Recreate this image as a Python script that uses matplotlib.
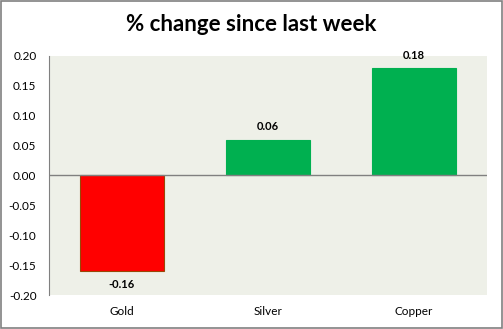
import matplotlib.pyplot as plt
from matplotlib.patches import Rectangle

categories = ["Gold", "Silver", "Copper"]
values = [-0.16, 0.06, 0.18]
colors = ["#FF0000", "#00B050", "#00B050"]
edges = ["#984807", "#00B050", "#00B050"]
yticks = [-0.20, -0.15, -0.10, -0.05, 0.00, 0.05, 0.10, 0.15, 0.20]


def main():
    plt.rcParams["font.family"] = ["Lato", "DejaVu Sans"]
    fig = plt.figure(figsize=(5.03, 3.29), dpi=100)
    ax = fig.add_axes([0.0974, 0.1033, 0.8708, 0.7267])
    ax.set_facecolor("#EEF0E8")

    x = range(len(categories))
    ax.bar(x, values, width=0.57, color=colors, edgecolor=edges, linewidth=0.8, zorder=2)
    for i, v in enumerate(values):
        off = 0.012 if v > 0 else -0.014
        ax.text(i, v + off, f"{v:.2f}", ha="center", va="bottom" if v > 0 else "top",
                fontsize=8, fontweight="bold", color="black")

    ax.axhline(0, color="#808080", linewidth=1, zorder=3)
    ax.set_xlim(-0.5, 2.5)
    ax.set_ylim(-0.20, 0.20)
    ax.set_yticks(yticks)
    ax.set_yticklabels([f"{t:.2f}" for t in yticks], fontsize=8.5)
    ax.set_xticks(list(x))
    ax.set_xticklabels(categories, fontsize=8.5)
    ax.tick_params(axis="both", length=0)
    ax.tick_params(axis="y", pad=9)
    ax.tick_params(axis="x", pad=8)
    for side in ["top", "right", "bottom"]:
        ax.spines[side].set_visible(False)
    ax.spines["left"].set_color("#808080")

    fig.text(0.5, 0.925, "% change since last week", ha="center", va="center",
             fontsize=16, fontweight="bold")
    fig.patches.append(Rectangle((0.001, 0.002), 0.997, 0.995, transform=fig.transFigure,
                                 fill=False, edgecolor="#808080", linewidth=1.2))
    fig.savefig("out.png", dpi=100)


if __name__ == "__main__":
    main()
